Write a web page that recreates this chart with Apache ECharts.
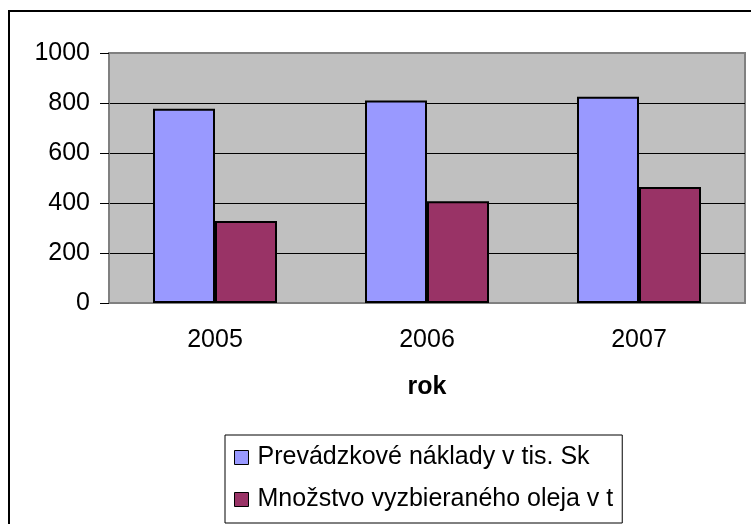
<!DOCTYPE html>
<html>
<head>
<meta charset="utf-8">
<script src="https://cdn.jsdelivr.net/npm/echarts@6/dist/echarts.min.js"></script>
<style>
  html, body { margin: 0; padding: 0; background: #fff; }
  #chart { width: 751px; height: 524px; }
</style>
</head>
<body>
<div id="chart"></div>
<script>
// hodnoty odčítané z grafu
const years = ['2005', '2006', '2007'];
const naklady = [777, 810, 825];
const olej = [328, 407, 464];
const seriesNames = ['Prevádzkové náklady v tis. Sk', 'Množstvo vyzbieraného oleja v t'];
const yTicks = { min: 0, max: 1000, interval: 200 };

const font = 'Liberation Sans, Arial, sans-serif';

const option = {
    animation: false,
    backgroundColor: '#fff',
    textStyle: { fontFamily: font },
    graphic: [
        {
            type: 'polyline',
            shape: { points: [[9, 600], [9, 11], [800, 11]] },
            style: { stroke: '#000', lineWidth: 2, fill: null },
            z: 100
        }
    ],
    grid: {
        left: 109,
        right: 6,
        top: 53,
        bottom: 221,
        show: true,
        backgroundColor: '#C0C0C0',
        borderColor: '#808080',
        borderWidth: 2
    },
    legend: {
        orient: 'vertical',
        left: 225,
        top: 435,
        padding: [10, 9, 11, 9],
        itemGap: 17,
        itemWidth: 14,
        itemHeight: 14,
        itemStyle: { borderColor: '#000', borderWidth: 1 },
        borderColor: '#000',
        borderWidth: 1,
        icon: 'rect',
        textStyle: { fontSize: 25, color: '#000', fontFamily: font, padding: [0, 0, 0, 4] },
        data: seriesNames
    },
    xAxis: {
        type: 'category',
        data: years,
        name: 'rok',
        nameLocation: 'middle',
        nameGap: 72,
        nameTextStyle: { fontSize: 25, fontWeight: 'bold', color: '#000', verticalAlign: 'top' },
        axisLine: { lineStyle: { color: '#808080', width: 2 } },
        axisTick: { length: 8, lineStyle: { color: '#808080', width: 2 } },
        axisLabel: { margin: 25, fontSize: 25, color: '#000' }
    },
    yAxis: {
        type: 'value',
        min: yTicks.min,
        max: yTicks.max,
        interval: yTicks.interval,
        axisLine: { show: true, lineStyle: { color: '#808080', width: 2 } },
        axisTick: { show: true, length: 9, lineStyle: { color: '#000', width: 1 } },
        axisLabel: { margin: 19, fontSize: 25, color: '#000', formatter: v => String(v) },
        splitLine: {
            lineStyle: {
                color: ['#808080', '#000', '#000', '#000', '#000', '#808080'],
                width: 1
            }
        }
    },
    series: [
        {
            name: seriesNames[0],
            type: 'bar',
            data: naklady,
            barWidth: 62,
            barGap: '0%',
            itemStyle: { color: '#9999FF', borderColor: '#000', borderWidth: 2 }
        },
        {
            name: seriesNames[1],
            type: 'bar',
            data: olej,
            barWidth: 62,
            barGap: '0%',
            itemStyle: { color: '#993366', borderColor: '#000', borderWidth: 2 }
        }
    ]
};

const chart = echarts.init(document.getElementById('chart'));
chart.setOption(option);
</script>
</body>
</html>
